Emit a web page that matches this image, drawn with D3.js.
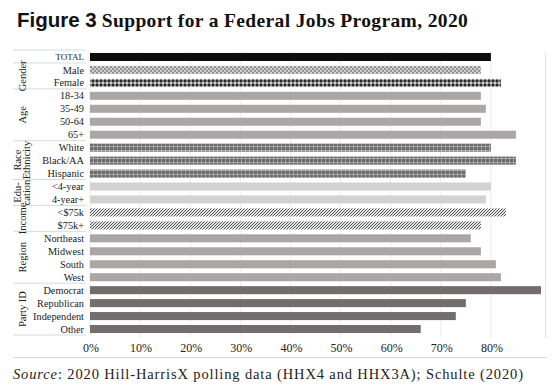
<!DOCTYPE html>
<html lang="en">
<head>
  <meta charset="UTF-8">
  <title>Support for a Federal Jobs Program, 2020</title>
  <style>
    body { margin: 0; background: #fff; }
    svg { display: block; }
    .serif { font-family: "Liberation Serif", "DejaVu Serif", serif; }
  </style>
</head>
<body>
  <script src="https://d3js.org/d3.v7.min.js"></script>
  <script>
    const categories = ['TOTAL', 'Male', 'Female', '18-34', '35-49', '50-64', '65+',
      'White', 'Black/AA', 'Hispanic', '<4-year', '4-year+', '<$75k', '$75k+',
      'Northeast', 'Midwest', 'South', 'West', 'Democrat', 'Republican', 'Independent', 'Other'];
    const values = [0.80, 0.78, 0.82, 0.78, 0.79, 0.78, 0.85,
      0.80, 0.85, 0.75, 0.80, 0.79, 0.83, 0.78,
      0.76, 0.78, 0.81, 0.82, 0.90, 0.75, 0.73, 0.66];
    const groupNames = ['', 'Gender', 'Age', 'Race|Ethnicity', 'Edu-|cation', 'Income', 'Region', 'Party ID'];
    const groupSizes = [1, 2, 4, 3, 2, 2, 4, 4];
    const tickLabels = ['0%', '10%', '20%', '30%', '40%', '50%', '60%', '70%', '80%'];

    const width = 557, height = 390;
    const svg = d3.select('body').append('svg')
      .attr('width', width).attr('height', height);

    // fills for each row
    const defs = svg.append('defs');
    function pat(id, size, draw) {
      const p = defs.append('pattern').attr('id', id)
        .attr('patternUnits', 'userSpaceOnUse').attr('width', size).attr('height', size);
      draw(p);
    }
    pat('male', 4, p => {
      p.append('rect').attr('width', 4).attr('height', 4).attr('fill', '#cfcfcf');
      p.append('rect').attr('width', 2).attr('height', 2).attr('fill', '#959595');
      p.append('rect').attr('x', 2).attr('y', 2).attr('width', 2).attr('height', 2).attr('fill', '#959595');
    });
    pat('female', 4, p => {
      p.append('rect').attr('width', 4).attr('height', 4).attr('fill', '#7a7a7a');
      p.append('rect').attr('width', 2).attr('height', 2).attr('fill', '#2a2a2a');
      p.append('rect').attr('x', 2).attr('y', 2).attr('width', 2).attr('height', 2).attr('fill', '#d0d0d0');
    });
    pat('race', 4, p => {
      p.append('rect').attr('width', 4).attr('height', 4).attr('fill', '#6a6a6a');
      p.append('rect').attr('x', 1).attr('width', 1).attr('height', 4).attr('fill', '#a0a0a0');
      p.append('rect').attr('y', 2).attr('width', 4).attr('height', 1).attr('fill', '#a8a8a8');
    });
    pat('income', 3, p => {
      p.append('rect').attr('width', 3).attr('height', 3).attr('fill', '#e4e4e4');
      p.append('path').attr('d', 'M-1,1 L1,-1 M0,3 L3,0 M2,4 L4,2')
        .attr('stroke', '#555').attr('stroke-width', 1);
    });

    const groupFill = ['#0d0d0d', null, '#aba7a7', 'url(#race)', '#d3d1d1', 'url(#income)', '#aaa6a6', '#736e6e'];
    const fills = [];
    groupSizes.forEach((n, g) => {
      for (let i = 0; i < n; i++) {
        if (g === 1) fills.push(i === 0 ? 'url(#male)' : 'url(#female)');
        else fills.push(groupFill[g]);
      }
    });

    const x = d3.scaleLinear().domain([0, 0.9]).range([90, 541]);
    const y = d3.scaleBand().domain(categories).range([50.5, 335.5]).paddingInner(0.38).paddingOuter(0.19);
    const step = y.step();

    // gridlines
    svg.append('g').selectAll('line')
      .data(d3.range(0, 0.81, 0.1))
      .join('line')
      .attr('x1', d => x(d)).attr('x2', d => x(d))
      .attr('y1', 52).attr('y2', 338)
      .attr('stroke', '#ececec').attr('stroke-width', 1);
    svg.append('line')
      .attr('x1', 545.5).attr('x2', 545.5).attr('y1', 52).attr('y2', 338)
      .attr('stroke', '#e2e2e2');

    // bars
    svg.append('g').selectAll('rect')
      .data(categories)
      .join('rect')
      .attr('x', x(0))
      .attr('y', d => y(d))
      .attr('width', (d, i) => x(values[i]) - x(0))
      .attr('height', y.bandwidth())
      .attr('fill', (d, i) => fills[i]);

    // row labels
    svg.append('g').attr('class', 'serif').selectAll('text')
      .data(categories)
      .join('text')
      .attr('x', 84)
      .attr('y', d => y(d) + y.bandwidth() / 2)
      .attr('dy', '0.35em')
      .attr('text-anchor', 'end')
      .attr('font-size', d => d === 'TOTAL' ? 9 : 10.3)
      .attr('fill', '#222')
      .text(d => d);

    // group separators and labels
    let start = 0;
    const top0 = y(categories[0]) - step * 0.19 - 0.5;
    const sepG = svg.append('g');
    sepG.append('line').attr('x1', 13).attr('x2', 86).attr('y1', top0).attr('y2', top0)
      .attr('stroke', '#d4dbe2');
    groupSizes.forEach((n, g) => {
      const y0 = top0 + start * step;
      const y1 = top0 + (start + n) * step;
      sepG.append('line').attr('x1', 13).attr('x2', 86).attr('y1', y1).attr('y2', y1)
        .attr('stroke', '#d4dbe2');
      if (groupNames[g]) {
        const lines = groupNames[g].split('|');
        const cy = (y0 + y1) / 2;
        const t = sepG.append('text').attr('class', 'serif')
          .attr('transform', `translate(${lines.length > 1 ? 17 : 22},${cy}) rotate(-90)`)
          .attr('text-anchor', 'middle')
          .attr('font-size', 10.5)
          .attr('fill', '#222');
        lines.forEach((l, i) => {
          t.append('tspan').attr('x', 0).attr('dy', i === 0 ? '0.35em' : '0.85em').text(l);
        });
      }
      start += n;
    });

    // axis
    svg.append('g').attr('class', 'serif').selectAll('text')
      .data(tickLabels)
      .join('text')
      .attr('x', (d, i) => x(i / 10) + 1)
      .attr('y', 352)
      .attr('text-anchor', 'middle')
      .attr('font-size', 12)
      .attr('fill', '#222')
      .text(d => d);
    svg.append('line').attr('x1', 13).attr('x2', 547).attr('y1', 357.5).attr('y2', 357.5)
      .attr('stroke', '#d4dbe2');

    // title
    const title = svg.append('text').attr('x', 17).attr('y', 27).attr('fill', '#111');
    title.append('tspan').attr('font-family', '"Liberation Sans", Arial, sans-serif')
      .attr('font-weight', 'bold').attr('font-size', 20.5).text('Figure 3');
    title.append('tspan').attr('font-family', '"Liberation Serif", serif')
      .attr('font-weight', 'bold').attr('font-size', 19.5)
      .attr('dx', 5).attr('textLength', 366).attr('lengthAdjust', 'spacing')
      .text('Support for a Federal Jobs Program, 2020');

    // source
    const src = svg.append('text').attr('class', 'serif').attr('x', 13).attr('y', 379)
      .attr('font-size', 14.5).attr('fill', '#222')
      .attr('textLength', 510).attr('lengthAdjust', 'spacing');
    src.append('tspan').attr('font-style', 'italic').text('Source');
    src.append('tspan').text(': 2020 Hill-HarrisX polling data (HHX4 and HHX3A); Schulte (2020)');
  </script>
</body>
</html>
